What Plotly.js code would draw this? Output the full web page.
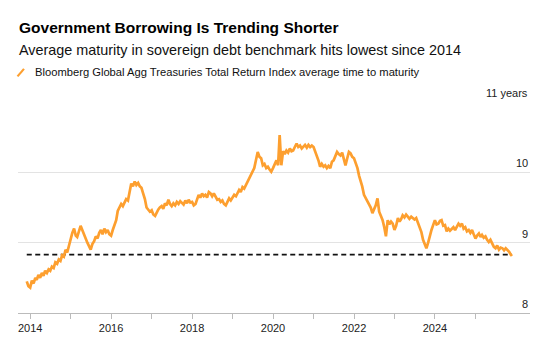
<!DOCTYPE html>
<html>
<head>
<meta charset="utf-8">
<script src="https://cdn.plot.ly/plotly-3.0.1.min.js"></script>
<style>html,body{margin:0;padding:0;background:#fff;}#chart{width:560px;height:353px;}</style>
</head>
<body>
<div id="chart"></div>
<script>
// Semi-monthly readings (1st and 16th of each month), Dec 2013 .. Nov 2025
const firstMonth = "2013-12";
const maturityYears = [
  8.45, 8.38,
  8.36, 8.46, 8.42, 8.50, 8.47, 8.54, 8.50, 8.57, 8.53, 8.60, 8.57, 8.62,
  8.60, 8.66, 8.64, 8.72, 8.70, 8.76, 8.74, 8.82, 8.80, 8.90, 8.86, 8.96,
  9.04, 9.14, 9.20, 9.10, 9.08, 9.16, 9.24, 9.18, 9.12, 9.04, 9.00, 8.95,
  8.90, 8.98, 9.02, 9.09, 9.06, 9.14, 9.18, 9.12, 9.20, 9.15, 9.18, 9.12,
  9.10, 9.18, 9.27, 9.32, 9.45, 9.50, 9.55, 9.52, 9.58, 9.62, 9.60, 9.72,
  9.84, 9.80, 9.87, 9.82, 9.85, 9.80, 9.78, 9.70, 9.62, 9.50, 9.47, 9.44,
  9.46, 9.40, 9.38, 9.44, 9.47, 9.50, 9.52, 9.48, 9.56, 9.53, 9.61, 9.55,
  9.52, 9.56, 9.53, 9.58, 9.55, 9.59, 9.57, 9.54, 9.60, 9.56, 9.61, 9.57,
  9.58, 9.53, 9.55, 9.62, 9.68, 9.64, 9.70, 9.66, 9.68, 9.64, 9.72, 9.70,
  9.66, 9.70, 9.64, 9.61, 9.62, 9.58, 9.60, 9.55, 9.53, 9.57, 9.63, 9.60,
  9.64, 9.68, 9.66, 9.72, 9.75, 9.72, 9.79, 9.77, 9.82, 9.87, 9.93, 9.98,
  10.02, 10.06, 10.18, 10.29, 10.22, 10.20, 10.10, 10.12, 10.06, 10.08, 10.04, 10.01,
  10.06, 10.12, 10.17, 10.10, 10.53, 10.10, 10.30, 10.26, 10.31, 10.28, 10.34, 10.30,
  10.31, 10.36, 10.41, 10.36, 10.38, 10.34, 10.37, 10.39, 10.35, 10.39, 10.36, 10.38,
  10.36, 10.30, 10.24, 10.16, 10.08, 10.12, 10.08, 10.10, 10.06, 10.09, 10.06, 10.15,
  10.17, 10.22, 10.29, 10.26, 10.24, 10.28, 10.17, 10.10, 10.20, 10.29, 10.27, 10.22,
  10.20, 10.14, 10.06, 9.95, 9.89, 9.80, 9.68, 9.64, 9.58, 9.55, 9.50, 9.42,
  9.48, 9.53, 9.63, 9.44, 9.38, 9.32, 9.22, 9.09, 9.32, 9.26, 9.30, 9.27,
  9.18, 9.24, 9.35, 9.30, 9.33, 9.39, 9.36, 9.40, 9.37, 9.34, 9.37, 9.35,
  9.33, 9.35, 9.28, 9.23, 9.15, 9.04, 8.98, 8.92, 9.00, 9.10, 9.18, 9.25,
  9.32, 9.26, 9.27, 9.31, 9.32, 9.24, 9.25, 9.16, 9.20, 9.17, 9.20, 9.22,
  9.18, 9.22, 9.27, 9.24, 9.27, 9.20, 9.22, 9.16, 9.18, 9.14, 9.18, 9.12,
  9.06, 9.10, 9.13, 9.08, 9.11, 9.07, 9.09, 9.04, 9.01, 9.04, 8.98, 8.94,
  8.92, 8.96, 8.90, 8.93, 8.92, 8.89, 8.92, 8.90, 8.87, 8.83
];
const lastDate = "2025-11-26";
const lastValue = 8.81;
const referenceLevel = 8.83;
const yTickValues = [8, 9, 10, 11];
const yTickLabels = ["8", "9", "10", "11 years"];
const xTickDates = ["2014-01-01", "2015-01-01", "2016-01-01", "2017-01-01", "2018-01-01", "2019-01-01",
                    "2020-01-01", "2021-01-01", "2022-01-01", "2023-01-01", "2024-01-01", "2025-01-01"];
const xTickLabels = ["2014", "", "2016", "", "2018", "", "2020", "", "2022", "", "2024", ""];

const titleText = "Government Borrowing Is Trending Shorter";
const subtitleText = "Average maturity in sovereign debt benchmark hits lowest since 2014";
const legendText = "Bloomberg Global Agg Treasuries Total Return Index average time to maturity";

// build dates (time index)
const dates = [];
const [sy, sm] = firstMonth.split("-").map(Number);
for (let i = 0; i < maturityYears.length; i++) {
  const mIdx = sm - 1 + Math.floor(i / 2);
  const y = sy + Math.floor(mIdx / 12);
  const m = (mIdx % 12) + 1;
  dates.push(y + "-" + String(m).padStart(2, "0") + "-" + (i % 2 ? "16" : "01"));
}
const xs = dates.concat([lastDate]);
const ys = maturityYears.concat([lastValue]);

const orange = "#fd9f2f";
const font = "Liberation Sans, Arial, sans-serif";

const traces = [
  {
    x: [xs[0], xs[xs.length - 1]],
    y: [referenceLevel, referenceLevel],
    mode: "lines",
    line: { color: "#111", width: 1.6, dash: "5px,3.5px" },
    hoverinfo: "skip", showlegend: false
  },
  {
    x: xs, y: ys, mode: "lines",
    line: { color: orange, width: 2.7 },
    showlegend: false
  }
];

const pH = 313.3 - 101.7;
function py(px) { return (313.3 - px) / pH; }

const annotations = [
  { text: "<b>" + titleText + "</b>", xref: "paper", yref: "paper", x: -0.002, y: py(27), xanchor: "left", yanchor: "middle", showarrow: false, font: { family: font, size: 15.5, color: "#000" } },
  { text: subtitleText, xref: "paper", yref: "paper", x: -0.002, y: py(49.5), xanchor: "left", yanchor: "middle", showarrow: false, font: { family: font, size: 14.4, color: "#111" } },
  { text: legendText, xref: "paper", yref: "paper", x: (33 - 18) / 512, y: py(71.5), xanchor: "left", yanchor: "middle", showarrow: false, font: { family: font, size: 11.2, color: "#111" } }
];
yTickValues.forEach((v, i) => {
  annotations.push({ text: yTickLabels[i], xref: "paper", yref: "y", x: 1, y: v, xanchor: "right", yanchor: "bottom", yshift: 1, showarrow: false, font: { family: font, size: 11, color: "#222" } });
});

const layout = {
  width: 560, height: 353,
  margin: { l: 18, r: 30, t: 101.7, b: 39.7 },
  paper_bgcolor: "#fff", plot_bgcolor: "#fff",
  showlegend: false,
  font: { family: font },
  xaxis: {
    type: "date",
    range: ["2013-09-13", "2026-05-08"],
    tickmode: "array", tickvals: xTickDates, ticktext: xTickLabels,
    ticks: "outside", ticklen: 5, tickcolor: "#bbb", tickwidth: 1,
    showline: true, linecolor: "#bbb", linewidth: 1,
    showgrid: false, zeroline: false,
    tickfont: { family: font, size: 11, color: "#222" }
  },
  yaxis: {
    range: [8, 11], tickvals: yTickValues, showticklabels: false,
    showgrid: true, gridcolor: "#e3e3e3", gridwidth: 1,
    zeroline: false, showline: false, ticks: ""
  },
  shapes: [
    { type: "line", xref: "paper", yref: "paper", x0: (17.5 - 18) / 512, y0: py(76), x1: (24 - 18) / 512, y1: py(68.5), line: { color: orange, width: 2.2 } }
  ],
  annotations: annotations
};

Plotly.newPlot("chart", traces, layout, { displayModeBar: false, staticPlot: true });
</script>
</body>
</html>
